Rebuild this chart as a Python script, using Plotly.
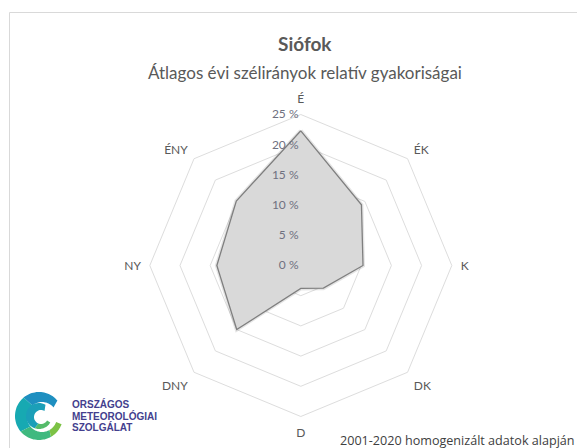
import math
import plotly.graph_objects as go

# Wind direction sectors (Hungarian abbreviations) and mean annual relative frequency (%)
directions = ["É", "ÉK", "K", "DK", "D", "DNY", "NY", "ÉNY"]
frequency = [22.3, 14.2, 10.3, 5.3, 3.8, 15.0, 13.9, 15.1]
radial_ticks = [0, 5, 10, 15, 20, 25]

title_text = "Siófok"
subtitle_text = "Átlagos évi szélirányok relatív gyakoriságai"
footer_text = "2001-2020 homogenizált adatok alapján"
logo_lines = ["ORSZÁGOS", "METEOROLÓGIAI", "SZOLGÁLAT"]

W, H = 577, 448
FONT = "Lato, Open Sans, sans-serif"
TEXT = "#595959"
GRID = "#dddddd"

fig = go.Figure()

# soft halo under the polygon, standing in for a drop shadow
fig.add_trace(go.Scatterpolar(
    r=frequency + frequency[:1],
    theta=directions + directions[:1],
    mode="lines",
    line=dict(color="rgba(0,0,0,0.10)", width=4),
    hoverinfo="skip",
    showlegend=False,
))

# closed polygon of the wind rose
fig.add_trace(go.Scatterpolar(
    r=frequency + frequency[:1],
    theta=directions + directions[:1],
    mode="lines",
    fill="toself",
    fillcolor="#d9d9d9",
    line=dict(color="#7f7f7f", width=1.3),
    hoverinfo="skip",
    showlegend=False,
))

# invisible pixel-space axes for the frame, titles and logo
fig.add_trace(go.Scatter(x=[0, W], y=[0, H], mode="markers",
                         marker=dict(opacity=0), hoverinfo="skip", showlegend=False))

cx, cy, R = 300.8, 265.5, 151.0
fig.update_layout(
    width=W, height=H,
    margin=dict(l=0, r=0, t=0, b=0),
    paper_bgcolor="white",
    plot_bgcolor="rgba(0,0,0,0)",
    xaxis=dict(range=[0, W], visible=False, domain=[0, 1], fixedrange=True),
    yaxis=dict(range=[H, 0], visible=False, domain=[0, 1], fixedrange=True),
    polar=dict(
        domain=dict(x=[(cx - R) / W, (cx + R) / W],
                    y=[(H - cy - R) / H, (H - cy + R) / H]),
        bgcolor="rgba(0,0,0,0)",
        gridshape="linear",
        radialaxis=dict(
            range=[0, 25],
            tickvals=radial_ticks,
            ticktext=[f"{v} %" for v in radial_ticks],
            angle=90,
            tickangle=90,
            side="counterclockwise",
            showline=False,
            ticks="",
            gridcolor=GRID,
            gridwidth=1,
            tickfont=dict(family=FONT, size=12, color="#6f7080"),
        ),
        angularaxis=dict(
            rotation=90,
            direction="clockwise",
            showgrid=False,
            showline=True,
            linecolor=GRID,
            linewidth=1,
            ticks="outside",
            ticklen=6,
            tickcolor="rgba(0,0,0,0)",
            tickfont=dict(family=FONT, size=12, color=TEXT),
        ),
    ),
)

shapes = []
# chart frame
shapes.append(dict(type="rect", xref="x", yref="y", x0=9.5, y0=12.5, x1=W + 5, y1=H + 5,
                   line=dict(color="#d9d9d9", width=1), fillcolor="rgba(0,0,0,0)"))

# swirl logo
lx, ly = 39, 416
def ring_piece(r_out, r_in, a0, a1, dx, dy, color):
    n = 24
    pts = []
    for i in range(n + 1):
        a = math.radians(a0 + (a1 - a0) * i / n)
        pts.append((lx + r_out * math.cos(a), ly - r_out * math.sin(a)))
    for i in range(n + 1):
        a = math.radians(a1 - (a1 - a0) * i / n)
        pts.append((lx + dx + r_in * math.cos(a), ly + dy - r_in * math.sin(a)))
    path = "M " + " L ".join(f"{x:.1f},{y:.1f}" for x, y in pts) + " Z"
    return dict(type="path", xref="x", yref="y", path=path, fillcolor=color, line=dict(width=0))

shapes.append(ring_piece(24, 15, 40, 130, 3, 1, "#1e8fc0"))
shapes.append(ring_piece(24, 15, 130, 220, 3, 1, "#17a9b2"))
shapes.append(ring_piece(24, 15, 220, 300, 3, 1, "#3fb97f"))
shapes.append(ring_piece(24, 15, 300, 340, 3, 1, "#7cc245"))
shapes.append(ring_piece(13, 7, 60, 250, 2, 1, "#1b9fb8"))
shapes.append(ring_piece(13, 7, 250, 330, 2, 1, "#55bb6a"))
fig.update_layout(shapes=shapes)

annotations = [
    dict(x=305, y=43, text=f"<b>{title_text}</b>", font=dict(family=FONT, size=19, color=TEXT)),
    dict(x=305, y=72, text=subtitle_text, font=dict(family=FONT, size=17, color=TEXT)),
    dict(x=338, y=440, text=footer_text, xanchor="left",
         font=dict(family="Open Sans, sans-serif", size=12.6, color="#404040")),
]
for i, line in enumerate(logo_lines):
    annotations.append(dict(x=70, y=404 + 11.5 * i, text=f"<b>{line}</b>", xanchor="left",
                            font=dict(family="Liberation Sans, Arial, sans-serif", size=10,
                                      color="#443f8e")))
for a in annotations:
    a.update(xref="x", yref="y", showarrow=False, yanchor="middle")
    a.setdefault("xanchor", "center")
fig.update_layout(annotations=annotations)

fig.write_html("out.html", config=dict(displayModeBar=False))
